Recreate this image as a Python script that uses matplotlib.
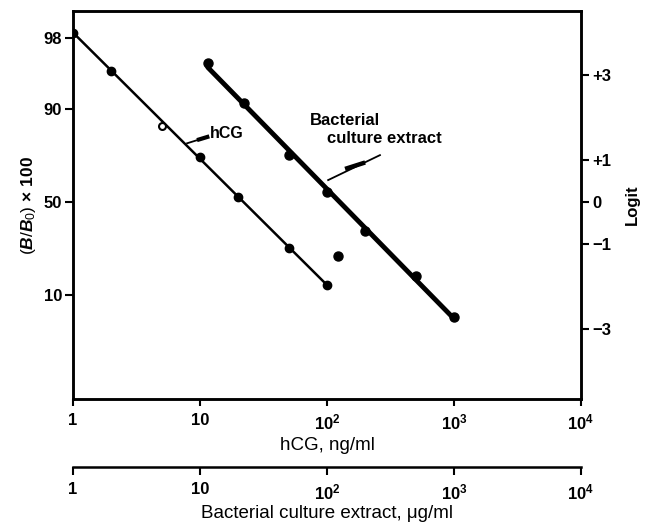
import numpy as np
import matplotlib
matplotlib.use("Agg")
import matplotlib.pyplot as plt

plt.rcParams['font.family'] = ['Liberation Sans', 'DejaVu Sans']
plt.rcParams['mathtext.fontset'] = 'custom'
plt.rcParams['mathtext.rm'] = 'Liberation Sans'
plt.rcParams['mathtext.it'] = 'Liberation Sans:italic:bold'
plt.rcParams['mathtext.bf'] = 'Liberation Sans:bold'

# data (y in logit units)
hcg_conc = [1, 2, 10, 20, 50, 100]
hcg_logit = [4.0, 3.10, 1.06, 0.12, -1.09, -1.96]
hcg_open_conc = [5]
hcg_open_logit = [1.80]
bact_conc = [11.5, 22, 50, 100, 200, 500, 1000]
bact_logit = [3.29, 2.35, 1.11, 0.24, -0.69, -1.75, -2.72]
stray_conc = [123]
stray_logit = [-1.28]

x_ticks = [1, 10, 100, 1000, 10000]
x_ticklabels = ['1', '10', r'$\mathbf{10^2}$', r'$\mathbf{10^3}$', r'$\mathbf{10^4}$']
left_pct = [98, 90, 50, 10]
right_logit = [3, 1, 0, -1, -3]
right_labels = ['+3', '+1', '0', '\u22121', '\u22123']

fig = plt.figure(figsize=(6.47, 5.24), dpi=100)
ax = fig.add_axes([0.113, 0.2385, 0.785, 0.7405])
ax.set_xscale('log')
ax.set_xlim(1, 1e4)
ax.set_ylim(-4.66, 4.52)


def fit_line(conc, logit):
    lx = np.log10(conc)
    reg = np.polyfit(lx, logit, 1)
    xs = np.array([lx.min(), lx.max()])
    return 10 ** xs, np.polyval(reg, xs)


fx, fy = fit_line(hcg_conc, hcg_logit)
ax.plot(fx, fy, color='black', lw=1.8, solid_capstyle='round')
ax.plot(hcg_conc, hcg_logit, 'o', color='black', ms=6)
ax.plot(hcg_open_conc, hcg_open_logit, 'o', mfc='white', mec='black', mew=1.5, ms=5)

fx, fy = fit_line(bact_conc, bact_logit)
ax.plot(fx, fy, color='black', lw=3.5, solid_capstyle='round')
ax.plot(bact_conc, bact_logit, 'o', color='black', ms=6.5)
ax.plot(stray_conc, stray_logit, 'o', color='black', ms=6.5)

# labels with pointers
ax.plot([7.9, 11.4], [1.39, 1.54], color='black', lw=1.3)
ax.plot([9.8, 11.4], [1.48, 1.54], color='black', lw=3)
ax.text(12, 1.63, 'hCG', fontsize=11.5, fontweight='bold', ha='left', va='center')

ax.plot([261, 102], [1.11, 0.52], color='black', lw=1.3)
ax.plot([192, 144], [0.92, 0.80], color='black', lw=3.2)
ax.text(73.5, 1.94, 'Bacterial', fontsize=12, fontweight='bold', ha='left', va='center')
ax.text(100, 1.51, 'culture extract', fontsize=12, fontweight='bold', ha='left', va='center')

for s in ax.spines.values():
    s.set_linewidth(1.8)

ax.set_xticks(x_ticks)
ax.set_xticklabels(x_ticklabels, fontsize=12, fontweight='bold')
ax.xaxis.set_minor_locator(matplotlib.ticker.NullLocator())
ax.tick_params(axis='x', direction='out', length=5, width=1.5, pad=5)
ax.set_xlabel('hCG, ng/ml', fontsize=13.5, labelpad=3)

left_pos = [np.log(p / (100 - p)) for p in left_pct]
ax.set_yticks(left_pos)
ax.set_yticklabels([str(p) for p in left_pct], fontsize=12, fontweight='bold')
ax.tick_params(axis='y', direction='out', length=6, width=1.5, pad=2)
ax.set_ylabel(r'$(\mathit{B}/\mathit{B}_0)$ $\mathbf{\times\ 100}$', fontsize=12.5, labelpad=4)

ax2 = ax.twinx()
ax2.set_ylim(ax.get_ylim())
ax2.set_yticks(right_logit)
ax2.set_yticklabels(right_labels, fontsize=12, fontweight='bold')
ax2.tick_params(axis='y', direction='out', length=6, width=1.5, pad=2)
ax2.set_ylabel('Logit', fontsize=12, fontweight='bold', rotation=90, labelpad=10)
for s in ax2.spines.values():
    s.set_linewidth(1.8)

# second concentration axis below
ax3 = fig.add_axes([0.113, 0.1088, 0.785, 0.0001])
ax3.set_xscale('log')
ax3.set_xlim(1, 1e4)
ax3.set_yticks([])
for k in ['top', 'left', 'right']:
    ax3.spines[k].set_visible(False)
ax3.spines['bottom'].set_linewidth(1.8)
ax3.patch.set_visible(False)
ax3.set_xticks(x_ticks)
ax3.set_xticklabels(x_ticklabels, fontsize=12, fontweight='bold')
ax3.xaxis.set_minor_locator(matplotlib.ticker.NullLocator())
ax3.tick_params(axis='x', direction='out', length=6, width=1.5, pad=5)
ax3.set_xlabel('Bacterial culture extract, \u03bcg/ml', fontsize=13.5, labelpad=2)

fig.savefig('out.png', dpi=100)
